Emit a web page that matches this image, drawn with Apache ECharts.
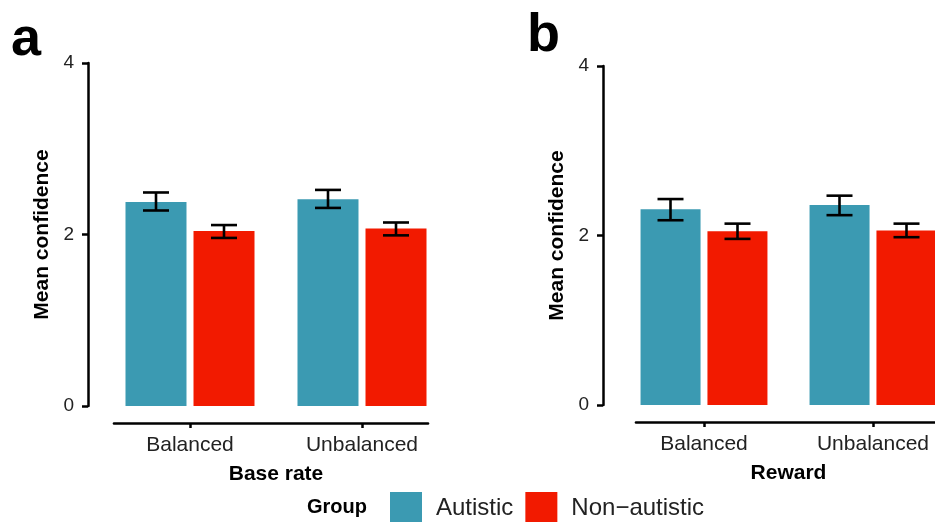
<!DOCTYPE html>
<html>
<head>
<meta charset="utf-8">
<script src="https://cdn.jsdelivr.net/npm/echarts@6/dist/echarts.min.js"></script>
<style>
html,body{margin:0;padding:0;background:#fff;}
#chart{width:935px;height:522px;}
</style>
</head>
<body>
<div id="chart"></div>
<script>
// ---- data ----
const categories = ['Balanced', 'Unbalanced'];
const groupNames = ['Autistic', 'Non\u2212autistic'];
const yTicks = [0, 2, 4];

// Panel a: Base rate
const baseAutistic = [2.38, 2.41];
const baseAutisticLo = [2.28, 2.31];
const baseAutisticHi = [2.49, 2.52];
const baseNon = [2.04, 2.07];
const baseNonLo = [1.96, 1.99];
const baseNonHi = [2.11, 2.14];

// Panel b: Reward
const rewAutistic = [2.31, 2.36];
const rewAutisticLo = [2.18, 2.24];
const rewAutisticHi = [2.43, 2.47];
const rewNon = [2.05, 2.06];
const rewNonLo = [1.96, 1.98];
const rewNonHi = [2.14, 2.14];

// ---- styles ----
const COL_AUT = '#3B9AB2';
const COL_NON = '#F21A00';
const FONT = 'Liberation Sans, Arial, Helvetica, sans-serif';
const TXT = '#222';

const chart = echarts.init(document.getElementById('chart'), null, {renderer: 'canvas'});

function errData(lo, hi) {
  return categories.map((c, i) => [i, lo[i], hi[i]]);
}
function errSeries(name, lo, hi, gi, dx, capW) {
  return {
    type: 'custom',
    name: name + '_err',
    xAxisIndex: gi, yAxisIndex: gi,
    z: 5,
    silent: true,
    clip: false,
    encode: {x: 0, y: [1, 2]},
    data: errData(lo, hi),
    renderItem: function (params, api) {
      const p1 = api.coord([api.value(0), api.value(1)]);
      const p2 = api.coord([api.value(0), api.value(2)]);
      const x = p1[0] + dx;
      const st = {stroke: '#000', lineWidth: 2.6, fill: null};
      return {
        type: 'group',
        children: [
          {type: 'line', shape: {x1: x, y1: p1[1], x2: x, y2: p2[1]}, style: st},
          {type: 'line', shape: {x1: x - capW / 2, y1: p1[1], x2: x + capW / 2, y2: p1[1]}, style: st},
          {type: 'line', shape: {x1: x - capW / 2, y1: p2[1], x2: x + capW / 2, y2: p2[1]}, style: st}
        ]
      };
    }
  };
}

function catAxis(gi, name) {
  return {
    type: 'category', gridIndex: gi, data: categories,
    offset: 17,
    axisLine: {show: true, onZero: false, lineStyle: {color: '#000', opacity: 0, width: 2.5}},
    axisTick: {show: true, alignWithLabel: true, length: 5, lineStyle: {color: '#000', width: 2.5, opacity: 1}},
    axisLabel: {show: true, margin: 12, fontSize: 21, color: TXT, fontFamily: FONT},
    name: name, nameLocation: 'middle', nameGap: 41,
    nameTextStyle: {fontSize: 21, fontWeight: 'bold', color: '#000', fontFamily: FONT},
    splitLine: {show: false}
  };
}
function valAxis(gi, offset, nameGap) {
  return {
    type: 'value', gridIndex: gi, min: yTicks[0], max: yTicks[yTicks.length - 1], interval: 2,
    offset: offset,
    axisLine: {show: true, lineStyle: {color: '#000', width: 2.5}},
    axisTick: {show: true, length: 6, lineStyle: {color: '#000', width: 2.5}},
    axisLabel: {margin: 14, fontSize: 19, color: TXT, fontFamily: FONT},
    splitLine: {show: false},
    name: 'Mean confidence', nameLocation: 'middle', nameGap: nameGap,
    nameTextStyle: {fontSize: 21, fontWeight: 'bold', color: '#000', fontFamily: FONT}
  };
}
function lineAxisX(gi) {
  return {
    type: 'value', gridIndex: gi, min: 0, max: 1, offset: 17,
    axisLine: {show: true, onZero: false, lineStyle: {color: '#000', width: 2.6}},
    axisTick: {show: false}, axisLabel: {show: false}, splitLine: {show: false}
  };
}
function hiddenY(gi) {
  return {type: 'value', gridIndex: gi, min: 0, max: 4, show: false};
}

const option = {
  animation: false,
  backgroundColor: '#fff',
  textStyle: {fontFamily: FONT},
  grid: [
    {left: 104, width: 344, top: 63, height: 343, outerBoundsMode: 'none', containLabel: false},
    {left: 619.5, width: 338, top: 66, height: 339, outerBoundsMode: 'none', containLabel: false},
    {left: 114, width: 314, top: 63, height: 343, outerBoundsMode: 'none', containLabel: false},
    {left: 636, width: 400, top: 66, height: 339, outerBoundsMode: 'none', containLabel: false}
  ],
  xAxis: [catAxis(0, 'Base rate'), catAxis(1, 'Reward'), lineAxisX(2), lineAxisX(3)],
  yAxis: [valAxis(0, 16, 35), valAxis(1, 16.5, 35), hiddenY(2), hiddenY(3)],
  legend: {
    data: groupNames,
    left: 390, top: 492,
    padding: 0,
    icon: 'rect',
    itemWidth: 32, itemHeight: 32, itemGap: 12,
    textStyle: {fontSize: 24, color: TXT, fontFamily: FONT, padding: [0, 0, 0, 9]},
    selectedMode: false
  },
  graphic: [
    {type: 'text', left: 11, top: 13, style: {text: 'a', font: 'bold 54px ' + FONT, fill: '#000'}},
    {type: 'text', left: 527, top: 9, style: {text: 'b', font: 'bold 54px ' + FONT, fill: '#000'}},
    {type: 'text', left: 307, top: 497, style: {text: 'Group', font: 'bold 20px ' + FONT, fill: '#000'}}
  ],
  series: [
    {type: 'bar', name: groupNames[0], xAxisIndex: 0, yAxisIndex: 0, data: baseAutistic,
     barWidth: 61, barGap: '11.5%', itemStyle: {color: COL_AUT}},
    {type: 'bar', name: groupNames[1], xAxisIndex: 0, yAxisIndex: 0, data: baseNon,
     barWidth: 61, barGap: '11.5%', itemStyle: {color: COL_NON}},
    {type: 'bar', name: groupNames[0], xAxisIndex: 1, yAxisIndex: 1, data: rewAutistic,
     barWidth: 60, barGap: '11.5%', itemStyle: {color: COL_AUT}},
    {type: 'bar', name: groupNames[1], xAxisIndex: 1, yAxisIndex: 1, data: rewNon,
     barWidth: 60, barGap: '11.5%', itemStyle: {color: COL_NON}},
    errSeries('a_aut', baseAutisticLo, baseAutisticHi, 0, -34, 26),
    errSeries('a_non', baseNonLo, baseNonHi, 0, 34, 26),
    errSeries('b_aut', rewAutisticLo, rewAutisticHi, 1, -33.5, 26),
    errSeries('b_non', rewNonLo, rewNonHi, 1, 33.5, 26)
  ]
};
chart.setOption(option);
</script>
</body>
</html>
